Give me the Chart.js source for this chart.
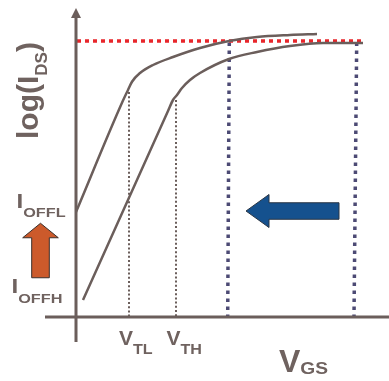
<!DOCTYPE html>
<html>
<head>
<meta charset="utf-8">
<script src="https://cdn.jsdelivr.net/npm/chart.js@4"></script>
<style>
  html, body { margin: 0; padding: 0; background: #ffffff; }
  #wrap { width: 389px; height: 381px; position: relative; }
</style>
</head>
<body>
<div id="wrap"><canvas id="chart"></canvas></div>
<script>
// log(I_DS) versus V_GS for a low-threshold and a high-threshold transistor
const vgsLowVt     = [0.00, 0.46, 0.52, 0.56, 0.64, 0.77, 0.97, 1.24, 1.53, 1.81, 2.14, 2.41];
const logIdsLowVt  = [-8.80, -4.43, -3.92, -3.59, -3.24, -2.92, -2.60, -2.24, -1.96, -1.80, -1.72, -1.68];
const vgsHighVt    = [0.07, 0.92, 0.97, 1.01, 1.06, 1.14, 1.24, 1.53, 1.81, 2.14, 2.47, 2.87];
const logIdsHighVt = [-12.32, -4.76, -4.32, -4.12, -3.84, -3.52, -3.24, -2.68, -2.40, -2.16, -2.04, -2.04];

// threshold voltages and the current levels where each curve leaves the V_GS = 0 axis
const thresholdVgs     = [0.53, 1.00];
const thresholdLogIds  = [-4.00, -4.32];
const thresholdLabels  = ['TL', 'TH'];
const offCurrentLogIds = [-8.80, -12.32];
const offCurrentLabels = ['OFFL', 'OFFH'];

// on-current level and the V_GS span swept towards the lower threshold
const onLogIds   = -1.96;
const onSpanVgs  = [0.01, 2.86];
const sweepTopVgs    = [1.533, 2.807];
const sweepBottomVgs = [1.517, 2.780];

// axis extent
const axisLogIds = -13;
const axisVgsRange = [-0.31, 3.13];
const axisLogIdsRange = [-14, -0.64];

const INK = '#6b5e5b';
const TEXT = '#6f625f';
const FONT = '"Liberation Sans", Arial, sans-serif';

const pts = (xs, ys) => xs.map((x, i) => ({ x, y: ys[i] }));

const datasets = [
  { data: [{ x: 0, y: axisLogIdsRange[0] }, { x: 0, y: -1.0 }], borderColor: INK, borderWidth: 3 },
  { data: [{ x: axisVgsRange[0], y: axisLogIds }, { x: axisVgsRange[1], y: axisLogIds }], borderColor: INK, borderWidth: 3 },
  { data: pts(vgsLowVt, logIdsLowVt), borderColor: INK, borderWidth: 2.5, cubicInterpolationMode: 'monotone' },
  { data: pts(vgsHighVt, logIdsHighVt), borderColor: INK, borderWidth: 2.5, cubicInterpolationMode: 'monotone' },
  { data: [{ x: onSpanVgs[0], y: onLogIds }, { x: onSpanVgs[1], y: onLogIds }], borderColor: '#e8262b', borderWidth: 3.5, borderDash: [4, 4] }
];
thresholdVgs.forEach((v, i) => {
  datasets.push({ data: [{ x: v, y: thresholdLogIds[i] }, { x: v, y: axisLogIds }], borderColor: INK, borderWidth: 2, borderDash: [2, 2.2] });
});
sweepTopVgs.forEach((v, i) => {
  datasets.push({ data: [{ x: v, y: onLogIds - 0.06 }, { x: sweepBottomVgs[i], y: axisLogIds }], borderColor: '#4c4a74', borderWidth: 3.5, borderDash: [3.5, 4.5] });
});

// draws a piece of text with an optional horizontal stretch, returns its advance
function stretched(ctx, text, x, y, px, sx) {
  ctx.font = `bold ${px}px ${FONT}`;
  ctx.save();
  ctx.translate(x, y);
  ctx.scale(sx, 1);
  ctx.fillText(text, 0, 0);
  ctx.restore();
  return ctx.measureText(text).width * sx;
}

function subText(ctx, x, y, main, sub, m, s, drop, tail) {
  x += stretched(ctx, main, x, y, m[0], m[1]);
  x += stretched(ctx, sub, x, y + drop, s[0], s[1]);
  if (tail) stretched(ctx, tail, x, y, m[0], m[1]);
}

const decorations = {
  id: 'decorations',
  afterDatasetsDraw(chart) {
    const ctx = chart.ctx;
    const xs = chart.scales.x, ys = chart.scales.y;
    const px = v => xs.getPixelForValue(v);
    const py = v => ys.getPixelForValue(v);
    const x0 = px(0), y0 = py(axisLogIds);

    ctx.save();
    // arrowhead on the log(I_DS) axis
    ctx.fillStyle = INK;
    ctx.beginPath();
    ctx.moveTo(x0, py(axisLogIdsRange[1]));
    ctx.lineTo(x0 + 5, py(-1.0) + 1);
    ctx.lineTo(x0 - 5, py(-1.0) + 1);
    ctx.closePath();
    ctx.fill();

    // block arrow: threshold shift along V_GS
    const bc = -8.76;
    ctx.beginPath();
    ctx.moveTo(px(1.70), py(bc));
    ctx.lineTo(px(1.93), py(bc + 0.66));
    ctx.lineTo(px(1.93), py(bc + 0.33));
    ctx.lineTo(px(2.63), py(bc + 0.33));
    ctx.lineTo(px(2.63), py(bc - 0.33));
    ctx.lineTo(px(1.93), py(bc - 0.33));
    ctx.lineTo(px(1.93), py(bc - 0.66));
    ctx.closePath();
    ctx.fillStyle = '#15518e';
    ctx.fill();
    ctx.lineWidth = 1;
    ctx.strokeStyle = '#2b3644';
    ctx.stroke();

    // block arrow: off-current increase
    const oc = -0.355;
    ctx.beginPath();
    ctx.moveTo(px(oc), py(-9.25));
    ctx.lineTo(px(oc + 0.178), py(-9.83));
    ctx.lineTo(px(oc + 0.088), py(-9.83));
    ctx.lineTo(px(oc + 0.088), py(-11.43));
    ctx.lineTo(px(oc - 0.088), py(-11.43));
    ctx.lineTo(px(oc - 0.088), py(-9.83));
    ctx.lineTo(px(oc - 0.178), py(-9.83));
    ctx.closePath();
    ctx.fillStyle = '#cc5a2b';
    ctx.fill();
    ctx.strokeStyle = '#3b2f2b';
    ctx.stroke();

    // labels
    ctx.fillStyle = TEXT;
    ctx.textAlign = 'left';
    ctx.textBaseline = 'alphabetic';

    ctx.save();
    ctx.translate(x0 - 38, y0 - 178);
    ctx.rotate(-Math.PI / 2);
    subText(ctx, 0, 0, 'log(I', 'DS', [30, 1], [17, 1], 9, ')');
    ctx.restore();

    subText(ctx, 16.5, py(offCurrentLogIds[0]) - 4, 'I', offCurrentLabels[0], [21, 1.15], [12.5, 1.3], 9);
    subText(ctx, 11.5, py(offCurrentLogIds[1]) - 7, 'I', offCurrentLabels[1], [21, 1.15], [12.5, 1.3], 10);

    thresholdVgs.forEach((v, i) => {
      subText(ctx, px(v) - (i === 0 ? 10 : 9.5), y0 + 28, 'V', thresholdLabels[i], [20, 1.05], [14, 1.15], 9);
    });

    subText(ctx, 279, y0 + 55, 'V', 'GS', [32, 1], [16, 1.2], 2);
    ctx.restore();
  }
};

new Chart(document.getElementById('chart'), {
  type: 'line',
  data: { datasets: datasets.map(d => Object.assign({ pointRadius: 0, fill: false, tension: 0 }, d)) },
  options: {
    responsive: true,
    maintainAspectRatio: false,
    animation: false,
    layout: { padding: 0 },
    plugins: { legend: { display: false }, tooltip: { enabled: false } },
    events: [],
    scales: {
      x: { type: 'linear', min: -0.76, max: 3.13, display: false },
      y: { type: 'linear', min: -15.56, max: -0.32, display: false }
    }
  },
  plugins: [decorations]
});
</script>
</body>
</html>
